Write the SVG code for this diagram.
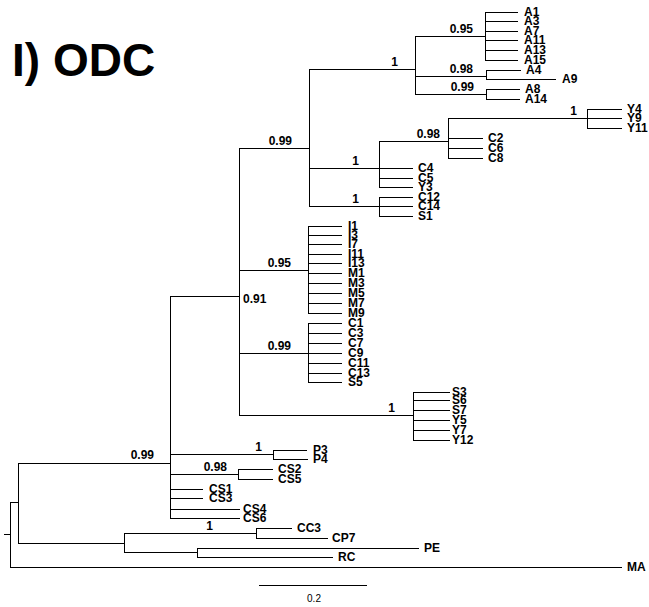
<svg xmlns="http://www.w3.org/2000/svg" width="649" height="607" viewBox="0 0 649 607">
<style>
.e{fill:none;stroke:#000;stroke-width:1;shape-rendering:crispEdges}
.t{font-family:"Liberation Sans",Arial,sans-serif;font-weight:bold;font-size:12px;fill:#000}
.b{font-family:"Liberation Sans",Arial,sans-serif;font-weight:bold;font-size:12px;fill:#000;text-anchor:end}
.ti{font-family:"Liberation Sans",Arial,sans-serif;font-weight:bold;font-size:46px;fill:#000}
.s{font-family:"Liberation Sans",Arial,sans-serif;font-size:10px;fill:#000;text-anchor:middle}
</style>
<rect width="649" height="607" fill="#fff"/>
<text class="ti" x="12" y="76">I) ODC</text>
<g id="connectors">
<path class="e" d="M4,534H10M10,502V567M10,567H622M10,502H18"/>
<path class="e" d="M18,463V543M18,463H170M18,543H124"/>
<path class="e" d="M124,533V552M124,533H256M124,552H197"/>
<path class="e" d="M256,528V538M256,528H292M256,538H328"/>
<path class="e" d="M197,548V557M197,548H419M197,557H333"/>
<path class="e" d="M170,296V518M170,296H239M170,454H273M170,474H238M170,489H203M170,498H203M170,509H240M170,518H240"/>
<path class="e" d="M273,450V459M273,450H307M273,459H308"/>
<path class="e" d="M238,469V479M238,469H273M238,479H273"/>
<path class="e" d="M239,148V415M239,148H309M239,270H308M239,353H308M239,415H413"/>
<path class="e" d="M308,226V313M308,226H342M308,235H342M308,244H342M308,254H342M308,263H342M308,273H342M308,283H342M308,293H342M308,303H342M308,313H342"/>
<path class="e" d="M308,323V382M308,323H342M308,333H342M308,343H342M308,353H342M308,363H342M308,373H342M308,382H342"/>
<path class="e" d="M413,392V440M413,392H450M413,400H450M413,410H450M413,420H450M413,430H450M413,440H450"/>
<path class="e" d="M309,69V206M309,69H415M309,168H379M309,206H379"/>
<path class="e" d="M415,36V94M415,36H485M415,76H486M415,94H486"/>
<path class="e" d="M485,12V60M485,12H518M485,21H518M485,31H518M485,40H518M485,50H518M485,60H518"/>
<path class="e" d="M486,70V79M486,70H521M486,79H556"/>
<path class="e" d="M486,89V99M486,89H520M486,99H520"/>
<path class="e" d="M379,141V187M379,141H448M379,168H413M379,178H413M379,187H413"/>
<path class="e" d="M448,118V158M448,118H587M448,138H483M448,148H483M448,158H483"/>
<path class="e" d="M587,109V128M587,109H622M587,118H622M587,128H622"/>
<path class="e" d="M379,197V216M379,197H413M379,206H413M379,216H413"/>
</g>
<g id="support">
<text class="b" x="473" y="33">0.95</text>
<text class="b" x="398" y="66">1</text>
<text class="b" x="473" y="73">0.98</text>
<text class="b" x="474" y="91">0.99</text>
<text class="b" x="577" y="115">1</text>
<text class="b" x="440" y="138">0.98</text>
<text class="b" x="292" y="145">0.99</text>
<text class="b" x="359" y="165">1</text>
<text class="b" x="359" y="203">1</text>
<text class="b" x="291" y="267">0.95</text>
<text class="t" x="243" y="303">0.91</text>
<text class="b" x="291" y="350">0.99</text>
<text class="b" x="395" y="412">1</text>
<text class="b" x="262" y="451">1</text>
<text class="b" x="154" y="459">0.99</text>
<text class="b" x="227" y="471">0.98</text>
<text class="b" x="213" y="530">1</text>
</g>
<g id="taxa">
<g id="A1"><text class="t" x="524" y="16.3">A1</text></g>
<g id="A3"><text class="t" x="524" y="25.3">A3</text></g>
<g id="A7"><text class="t" x="524" y="35.3">A7</text></g>
<g id="A11"><text class="t" x="524" y="44.3">A11</text></g>
<g id="A13"><text class="t" x="524" y="54.3">A13</text></g>
<g id="A15"><text class="t" x="524" y="64.3">A15</text></g>
<g id="A4"><text class="t" x="526" y="74.3">A4</text></g>
<g id="A9"><text class="t" x="562" y="83.3">A9</text></g>
<g id="A8"><text class="t" x="525" y="93.3">A8</text></g>
<g id="A14"><text class="t" x="525" y="103.3">A14</text></g>
<g id="Y4"><text class="t" x="627" y="113.3">Y4</text></g>
<g id="Y9"><text class="t" x="627" y="122.3">Y9</text></g>
<g id="Y11"><text class="t" x="627" y="132.3">Y11</text></g>
<g id="C2"><text class="t" x="488" y="142.3">C2</text></g>
<g id="C6"><text class="t" x="488" y="152.3">C6</text></g>
<g id="C8"><text class="t" x="488" y="162.3">C8</text></g>
<g id="C4"><text class="t" x="418" y="172.3">C4</text></g>
<g id="C5"><text class="t" x="418" y="182.3">C5</text></g>
<g id="Y3"><text class="t" x="418" y="191.3">Y3</text></g>
<g id="C12"><text class="t" x="418" y="201.3">C12</text></g>
<g id="C14"><text class="t" x="418" y="210.3">C14</text></g>
<g id="S1"><text class="t" x="418" y="220.3">S1</text></g>
<g id="I1"><text class="t" x="348" y="230.3">I1</text></g>
<g id="I3"><text class="t" x="348" y="239.3">I3</text></g>
<g id="I7"><text class="t" x="348" y="248.3">I7</text></g>
<g id="I11"><text class="t" x="348" y="258.3">I11</text></g>
<g id="I13"><text class="t" x="348" y="267.3">I13</text></g>
<g id="M1"><text class="t" x="348" y="277.3">M1</text></g>
<g id="M3"><text class="t" x="348" y="287.3">M3</text></g>
<g id="M5"><text class="t" x="348" y="297.3">M5</text></g>
<g id="M7"><text class="t" x="348" y="307.3">M7</text></g>
<g id="M9"><text class="t" x="348" y="317.3">M9</text></g>
<g id="C1"><text class="t" x="348" y="327.3">C1</text></g>
<g id="C3"><text class="t" x="348" y="337.3">C3</text></g>
<g id="C7"><text class="t" x="348" y="347.3">C7</text></g>
<g id="C9"><text class="t" x="348" y="357.3">C9</text></g>
<g id="C11"><text class="t" x="348" y="367.3">C11</text></g>
<g id="C13"><text class="t" x="348" y="377.3">C13</text></g>
<g id="S5"><text class="t" x="348" y="386.3">S5</text></g>
<g id="S3"><text class="t" x="452" y="396.3">S3</text></g>
<g id="S6"><text class="t" x="452" y="404.3">S6</text></g>
<g id="S7"><text class="t" x="452" y="414.3">S7</text></g>
<g id="Y5"><text class="t" x="452" y="424.3">Y5</text></g>
<g id="Y7"><text class="t" x="452" y="434.3">Y7</text></g>
<g id="Y12"><text class="t" x="452" y="444.3">Y12</text></g>
<g id="P3"><text class="t" x="313" y="454.3">P3</text></g>
<g id="P4"><text class="t" x="313" y="463.3">P4</text></g>
<g id="CS2"><text class="t" x="278" y="473.3">CS2</text></g>
<g id="CS5"><text class="t" x="278" y="483.3">CS5</text></g>
<g id="CS1"><text class="t" x="209" y="493.3">CS1</text></g>
<g id="CS3"><text class="t" x="209" y="502.3">CS3</text></g>
<g id="CS4"><text class="t" x="243" y="513.3">CS4</text></g>
<g id="CS6"><text class="t" x="243" y="522.3">CS6</text></g>
<g id="CC3"><text class="t" x="297" y="532.3">CC3</text></g>
<g id="CP7"><text class="t" x="332" y="542.3">CP7</text></g>
<g id="PE"><text class="t" x="424" y="552.3">PE</text></g>
<g id="RC"><text class="t" x="338" y="561.3">RC</text></g>
<g id="MA"><text class="t" x="627" y="571.3">MA</text></g>
</g>
<g id="scale">
<path class="e" d="M259,585H367" stroke="#333"/>
<text class="s" x="314" y="602">0.2</text>
</g>
</svg>
